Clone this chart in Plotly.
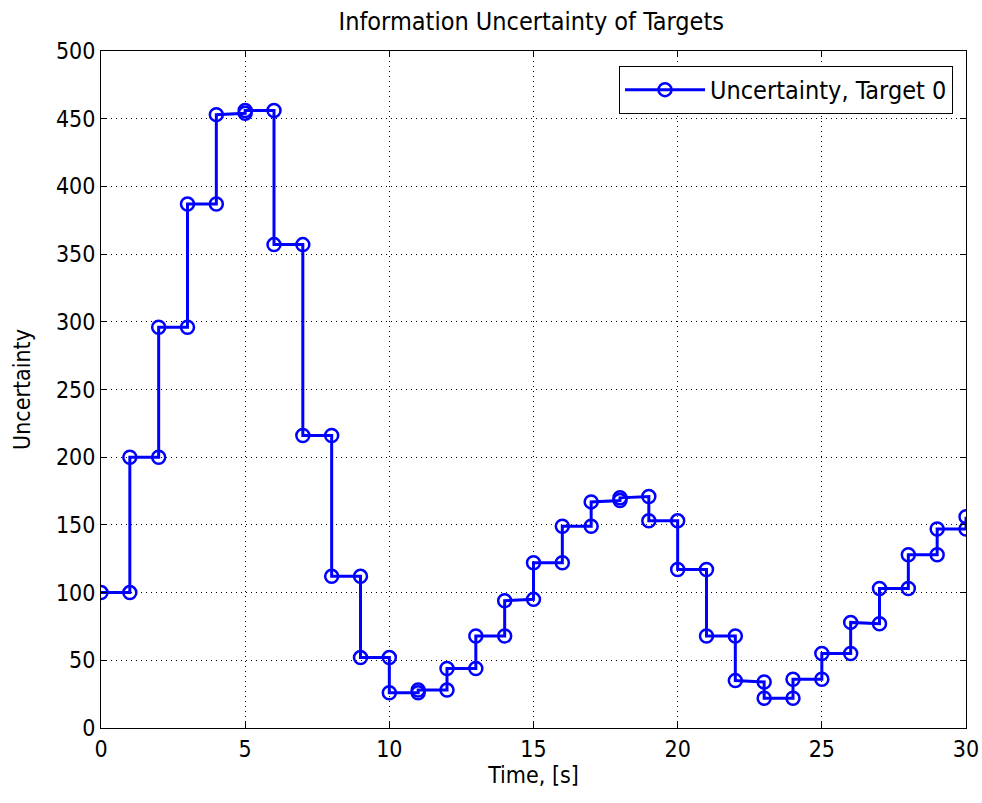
import plotly.graph_objects as go

# step times and values (value just before the step, value just after)
times = list(range(0, 31))
before = [100, 100, 200, 296, 387, 454, 456, 357, 216, 112, 52, 26, 28, 44, 68, 95,
          122, 149, 168, 171, 153, 117, 68, 34, 22, 36, 55, 77, 103, 128, 147]
after = [100, 200, 296, 387, 453, 456, 357, 216, 112, 52, 26, 28, 44, 68, 94, 122,
         149, 167, 170, 153, 117, 68, 35, 22, 36, 55, 78, 103, 128, 147, 156]

xs, ys = [], []
for t, b, a in zip(times, before, after):
    if t == 0:
        xs.append(t); ys.append(b)
    else:
        xs += [t, t]; ys += [b, a]

FONT = "DejaVu Sans Condensed, DejaVu Sans, sans-serif"

fig = go.Figure()
fig.add_trace(go.Scatter(
    x=xs, y=ys, mode="lines+markers", name="Uncertainty, Target 0",
    line=dict(color="#0000ff", width=3),
    marker=dict(symbol="circle-open", size=13, color="#0000ff", line=dict(width=2.5, color="#0000ff")),
))

axis_common = dict(
    showline=True, linecolor="black", linewidth=1, mirror="allticks",
    ticks="inside", ticklen=6, tickcolor="black", automargin=False,
    showgrid=True, gridcolor="black", gridwidth=1, griddash="1px,4px",
    zeroline=False, tickfont=dict(family=FONT, size=23, color="black"),
)

fig.update_layout(
    width=982, height=803,
    margin=dict(l=101, r=16, t=51, b=75),
    paper_bgcolor="white", plot_bgcolor="white",
    title=dict(text="Information Uncertainty of Targets", x=0.541, xanchor="center",
               y=0.973, yanchor="middle", font=dict(family=FONT, size=25, color="black")),
    xaxis=dict(range=[0, 30], tickvals=[0, 5, 10, 15, 20, 25, 30], **axis_common,
               title=dict(text="Time, [s]", font=dict(family=FONT, size=23, color="black"), standoff=6)),
    yaxis=dict(range=[0, 500], tickvals=list(range(0, 501, 50)), **axis_common,
               title=dict(text="Uncertainty", font=dict(family=FONT, size=23, color="black"), standoff=18)),
    showlegend=True,
    legend=dict(x=0.985, y=0.978, xanchor="right", yanchor="top", itemwidth=80,
                bgcolor="white", bordercolor="black", borderwidth=1,
                font=dict(family=FONT, size=25, color="black")),
)

fig.write_html("out.html")
